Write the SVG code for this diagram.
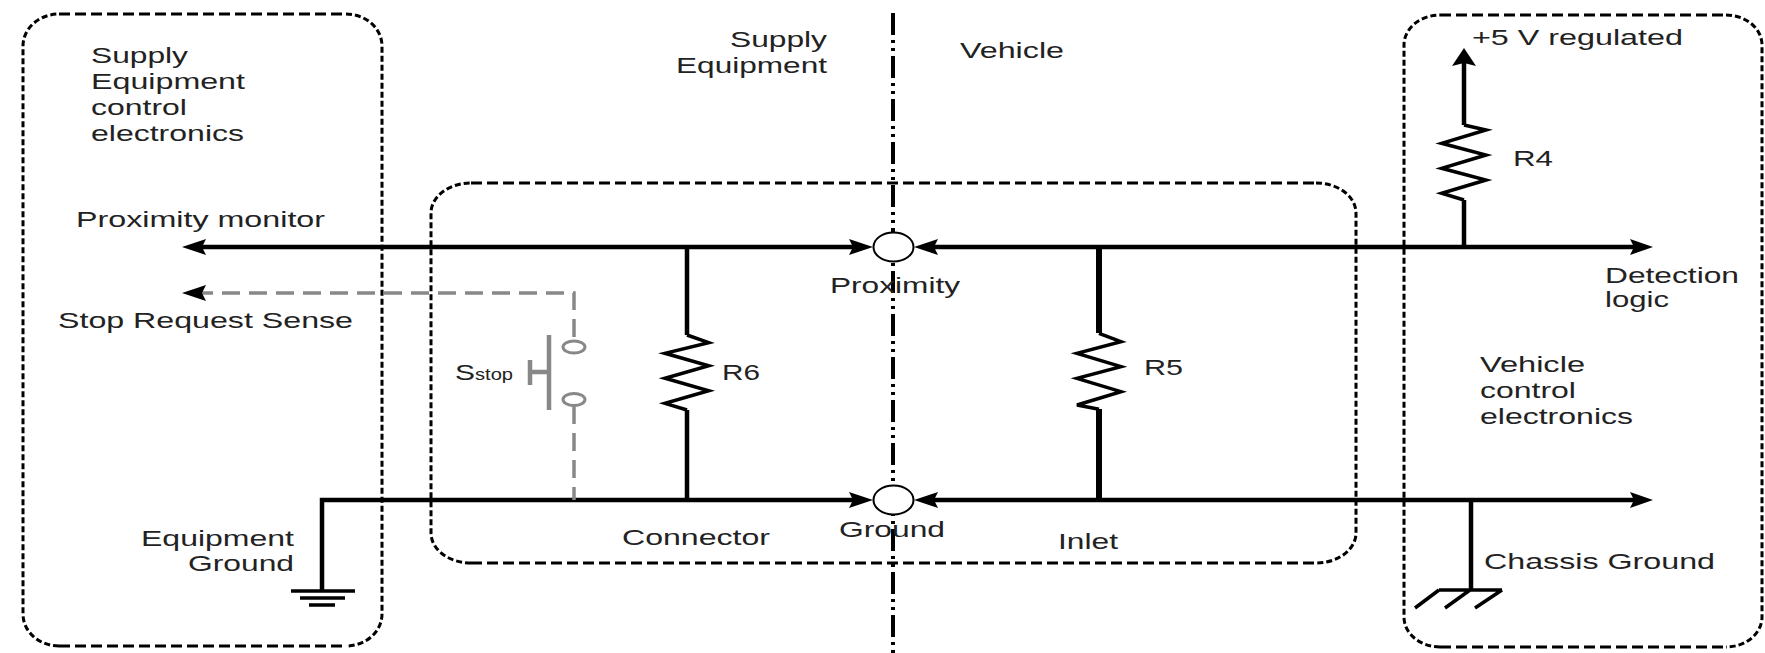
<svg xmlns="http://www.w3.org/2000/svg" width="1765" height="653" viewBox="0 0 1765 653">
<style>
  .bg{fill:#fff}
  .hdash{fill:none;stroke:#000;stroke-width:3;stroke-dasharray:11 5}
  .vdash{fill:none;stroke:#000;stroke-width:3;stroke-dasharray:6 3}
  .divider{fill:none;stroke:#000;stroke-width:4;stroke-dasharray:22 5 3 5 3 5}
  .wire{fill:none;stroke:#000;stroke-width:4.5}
  .thick{fill:none;stroke:#000;stroke-width:6}
  .zig{fill:none;stroke:#000;stroke-width:3.5;stroke-linejoin:miter}
  .gray{fill:none;stroke:#888;stroke-width:3.5;stroke-dasharray:18 9}
  .graysolid{fill:none;stroke:#888;stroke-width:4.5}
  .contact{fill:#fff;stroke:#888;stroke-width:3}
  .pin{fill:#fff;stroke:#000;stroke-width:2}
  .arrow{fill:#000}
  .gnd{fill:none;stroke:#000;stroke-width:3.5}
  text{font-family:"Liberation Sans",Arial,sans-serif;font-size:22px;fill:#222}
  .sub{font-size:17px}
</style>
<rect class="bg" x="0" y="0" width="1765" height="653"/>

<g id="box-supply-electronics">
  <path class="hdash" d="M59 14H346M59 646H346"/>
  <path class="vdash" d="M346 14A36 32 0 0 1 382 46V614A36 32 0 0 1 346 646M59 646A36 32 0 0 1 23 614V46A36 32 0 0 1 59 14"/>
  <text x="91" y="63" textLength="97" lengthAdjust="spacingAndGlyphs">Supply</text>
  <text x="91" y="89" textLength="154" lengthAdjust="spacingAndGlyphs">Equipment</text>
  <text x="91" y="115" textLength="96" lengthAdjust="spacingAndGlyphs">control</text>
  <text x="91" y="141" textLength="153" lengthAdjust="spacingAndGlyphs">electronics</text>
</g>

<g id="box-connector-inlet">
  <path class="hdash" d="M471 183H1316M471 563H1316"/>
  <path class="vdash" d="M1316 183A40 30 0 0 1 1356 213V533A40 30 0 0 1 1316 563M471 563A40 30 0 0 1 431 533V213A40 30 0 0 1 471 183"/>
</g>

<g id="box-vehicle-electronics">
  <path class="hdash" d="M1440 15H1726M1440 647H1726"/>
  <path class="vdash" d="M1726 15A36 30 0 0 1 1762 45V617A36 30 0 0 1 1726 647M1440 647A36 30 0 0 1 1404 617V45A36 30 0 0 1 1440 15"/>
  <text x="1480" y="372" textLength="105" lengthAdjust="spacingAndGlyphs">Vehicle</text>
  <text x="1480" y="398" textLength="96" lengthAdjust="spacingAndGlyphs">control</text>
  <text x="1480" y="424" textLength="153" lengthAdjust="spacingAndGlyphs">electronics</text>
</g>

<g id="divider">
  <path class="divider" d="M893 13V653"/>
  <text x="730" y="47" textLength="97" lengthAdjust="spacingAndGlyphs">Supply</text>
  <text x="676" y="73" textLength="151" lengthAdjust="spacingAndGlyphs">Equipment</text>
  <text x="960" y="58" textLength="104" lengthAdjust="spacingAndGlyphs">Vehicle</text>
</g>

<g id="connectors">
  <path class="wire" d="M195 247H858M928 247H1640"/>
  <path class="wire" d="M322 591V500H858M928 500H1640"/>
  <path class="gray" d="M195 293H574V340"/>
  <path class="gray" d="M574 406V500"/>
  <path class="wire" d="M687 247V335M687 410V500"/>
  <path class="thick" d="M1099 247V333M1099 409V500"/>
  <path class="wire" d="M1464 247V200M1464 125V60"/>
  <path class="wire" d="M1471 500V590"/>
  <polygon class="arrow" points="182,247 206,239 202,247 206,255"/>
  <polygon class="arrow" points="182,293 206,285 202,293 206,301"/>
  <polygon class="arrow" points="873,247 849,239 853,247 849,255"/>
  <polygon class="arrow" points="914,247 938,239 934,247 938,255"/>
  <polygon class="arrow" points="873,500 849,492 853,500 849,508"/>
  <polygon class="arrow" points="914,500 938,492 934,500 938,508"/>
  <polygon class="arrow" points="1653,247 1630,239 1634,247 1630,255"/>
  <polygon class="arrow" points="1653,500 1630,492 1634,500 1630,508"/>
  <polygon class="arrow" points="1464,48 1452,66 1464,63 1476,66"/>
</g>

<g id="pin-proximity">
  <ellipse class="pin" cx="893.5" cy="247" rx="20" ry="14.5"/>
  <text x="830" y="293" textLength="130" lengthAdjust="spacingAndGlyphs">Proximity</text>
</g>
<g id="pin-ground">
  <ellipse class="pin" cx="893.5" cy="500" rx="20" ry="14.5"/>
  <text x="839" y="537" textLength="106" lengthAdjust="spacingAndGlyphs">Ground</text>
</g>

<g id="R6">
  <polyline class="zig" points="687,335 708.7,342.7 665,353.3 708.7,365.7 665,378.3 708.7,390.7 665,403.3 687,410"/>
  <text x="722" y="380" textLength="38" lengthAdjust="spacingAndGlyphs">R6</text>
</g>
<g id="R5">
  <polyline class="zig" points="1099,333.3 1121,341.7 1077,353.3 1121,366.7 1077,378.3 1121,391.7 1077,405 1099,409.3"/>
  <text x="1144" y="375" textLength="39" lengthAdjust="spacingAndGlyphs">R5</text>
</g>
<g id="R4">
  <polyline class="zig" points="1464,200 1441.7,193.3 1486,180 1441.7,168.3 1486,155 1441.7,143.3 1486,130 1464,125"/>
  <text x="1513" y="166" textLength="40" lengthAdjust="spacingAndGlyphs">R4</text>
  <text x="1472" y="45" textLength="211" lengthAdjust="spacingAndGlyphs">+5 V regulated</text>
</g>

<g id="S-stop">
  <ellipse class="contact" cx="574" cy="347" rx="11" ry="6"/>
  <ellipse class="contact" cx="574" cy="399.5" rx="11" ry="6"/>
  <path class="graysolid" d="M549 335V410M530 360V385M530 372H549"/>
  <text x="455" y="380" textLength="20" lengthAdjust="spacingAndGlyphs">S</text>
  <text class="sub" x="475" y="380" textLength="38" lengthAdjust="spacingAndGlyphs">stop</text>
</g>

<g id="equipment-ground">
  <path class="gnd" d="M291 591H355M300 598H345M309 605H335"/>
  <text x="141" y="546" textLength="153" lengthAdjust="spacingAndGlyphs">Equipment</text>
  <text x="188" y="571" textLength="106" lengthAdjust="spacingAndGlyphs">Ground</text>
</g>

<g id="chassis-ground">
  <path class="gnd" d="M1439 590H1502M1439 590L1415 608M1470 590L1445 608M1502 590L1475 608"/>
  <text x="1484" y="569" textLength="231" lengthAdjust="spacingAndGlyphs">Chassis Ground</text>
</g>

<g id="labels">
  <text x="76" y="227" textLength="249" lengthAdjust="spacingAndGlyphs">Proximity monitor</text>
  <text x="58" y="328" textLength="295" lengthAdjust="spacingAndGlyphs">Stop Request Sense</text>
  <text x="1605" y="283" textLength="134" lengthAdjust="spacingAndGlyphs">Detection</text>
  <text x="1605" y="307" textLength="64" lengthAdjust="spacingAndGlyphs">logic</text>
  <text x="622" y="545" textLength="148" lengthAdjust="spacingAndGlyphs">Connector</text>
  <text x="1058" y="549" textLength="60" lengthAdjust="spacingAndGlyphs">Inlet</text>
</g>
</svg>
